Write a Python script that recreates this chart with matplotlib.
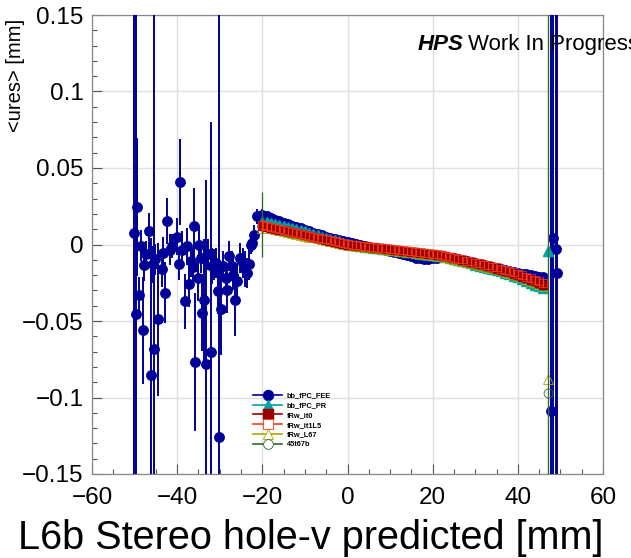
import numpy as np
import matplotlib
matplotlib.use('Agg')
import matplotlib.pyplot as plt
from matplotlib.lines import Line2D
from matplotlib.ticker import MultipleLocator, FuncFormatter

plt.rcParams['font.family'] = ['Liberation Sans', 'DejaVu Sans']
plt.rcParams['axes.unicode_minus'] = True

# ---------------- data ----------------
# bb_fPC_FEE : scattered region (left)
fee_left_x = [-50.1, -49.7, -49.4, -49.0, -48.5, -48.1, -47.7, -47.3, -46.5, -46.1,
              -45.6, -45.4, -45.2, -44.6, -43.6, -43.3, -42.9, -42.5, -41.7, -41.3,
              -40.1, -39.5, -39.3, -38.8, -38.2, -37.8, -37.2, -36.8, -36.2, -36.1,
              -35.7, -35.2, -34.9, -34.5, -34.1, -33.7, -33.2, -32.7, -32.1, -31.8,
              -31.4, -30.9, -30.5, -30.1, -29.7, -29.3, -28.5, -28.4, -27.8, -27.2,
              -26.8, -26.4, -25.9, -25.2, -24.6, -24.1, -23.7, -23.1, -22.7, -22.4,
              -22.0, -21.3]
fee_left_y = [0.0076, -0.0452, 0.0243, -0.0330, -0.0007, -0.0560, -0.0137, -0.0059, 0.0087, -0.0855,
              -0.0130, -0.0680, -0.0098, -0.0490, -0.0160, -0.0054, -0.0315, 0.0152, -0.0033, -0.0010,
              0.0050, -0.0130, 0.0407, -0.0033, -0.0370, -0.0011, -0.0260, -0.0110, -0.0145, 0.0120,
              -0.0770, -0.0217, 0.0000, -0.0087, -0.0446, -0.0365, -0.0778, -0.0065, -0.0700, -0.0141,
              -0.0130, -0.0120, -0.0304, -0.1255, -0.0420, -0.0140, -0.0220, -0.0300, -0.0076, -0.0140,
              -0.0200, -0.0360, -0.0240, -0.0087, -0.0120, -0.0160, -0.0185, -0.0130, 0.0000, 0.0011,
              0.0065, 0.0185]
fee_left_err = [0.30, 0.30, 0.045, 0.012, 0.010, 0.035, 0.010, 0.008, 0.012, 0.090,
                0.012, 0.250, 0.010, 0.050, 0.012, 0.010, 0.020, 0.015, 0.010, 0.008,
                0.012, 0.010, 0.028, 0.012, 0.018, 0.012, 0.015, 0.010, 0.012, 0.025,
                0.045, 0.015, 0.012, 0.010, 0.025, 0.040, 0.120, 0.010, 0.150, 0.012,
                0.010, 0.010, 0.015, 0.300, 0.030, 0.010, 0.010, 0.015, 0.010, 0.010,
                0.010, 0.024, 0.012, 0.010, 0.010, 0.012, 0.010, 0.010, 0.006, 0.006,
                0.006, 0.005]

# common x positions of the dense band (-20 ... 46)
band_x = [-20, -19, -18, -17, -16, -15, -14, -13, -12, -11, -10, -9, -8, -7, -6, -5, -4,
          -3, -2, -1, 0, 1, 2, 3, 4, 5, 6, 7, 8, 9, 10, 11, 12, 13, 14, 15, 16, 17,
          18, 19, 20, 21, 22, 23, 24, 25, 26, 27, 28, 29, 30, 31, 32, 33, 34, 35, 36,
          37, 38, 39, 40, 41, 42, 43, 44, 45, 46]
band_err = [0.0040, 0.0030, 0.0025, 0.0020, 0.0018, 0.0016, 0.0015, 0.0014, 0.0013, 0.0013,
            0.0012, 0.0012, 0.0012, 0.0012, 0.0012, 0.0012, 0.0012, 0.0012, 0.0012, 0.0012,
            0.0012, 0.0012, 0.0012, 0.0012, 0.0012, 0.0012, 0.0012, 0.0012, 0.0012, 0.0012,
            0.0012, 0.0012, 0.0012, 0.0012, 0.0012, 0.0012, 0.0012, 0.0012, 0.0012, 0.0012,
            0.0012, 0.0012, 0.0012, 0.0012, 0.0012, 0.0012, 0.0012, 0.0012, 0.0013, 0.0013,
            0.0013, 0.0013, 0.0013, 0.0014, 0.0014, 0.0015, 0.0015, 0.0016, 0.0016, 0.0017,
            0.0018, 0.0019, 0.0020, 0.0022, 0.0025, 0.0028, 0.0030]

fee_band_y = [0.0195, 0.0185, 0.0172, 0.0162, 0.0152, 0.0143, 0.0133, 0.0124, 0.0115, 0.0106,
              0.0098, 0.0088, 0.0078, 0.0070, 0.0062, 0.0052, 0.0043, 0.0036, 0.0030, 0.0024,
              0.0018, 0.0011, 0.0005, -0.0002, -0.0008, -0.0014, -0.0020, -0.0026, -0.0032, -0.0037,
              -0.0042, -0.0048, -0.0055, -0.0062, -0.0070, -0.0078, -0.0085, -0.0090, -0.0093, -0.0092,
              -0.0090, -0.0085, -0.0080, -0.0082, -0.0085, -0.0091, -0.0098, -0.0104, -0.0110, -0.0116,
              -0.0122, -0.0128, -0.0135, -0.0141, -0.0148, -0.0154, -0.0160, -0.0166, -0.0172, -0.0178,
              -0.0184, -0.0190, -0.0196, -0.0200, -0.0205, -0.0210, -0.0215]
pr_band_y = [0.0150, 0.0145, 0.0140, 0.0134, 0.0128, 0.0122, 0.0115, 0.0108, 0.0100, 0.0093,
             0.0085, 0.0076, 0.0068, 0.0060, 0.0052, 0.0044, 0.0036, 0.0028, 0.0020, 0.0012,
             0.0004, -0.0001, -0.0006, -0.0010, -0.0014, -0.0018, -0.0021, -0.0025, -0.0028, -0.0031,
             -0.0034, -0.0038, -0.0041, -0.0045, -0.0048, -0.0052, -0.0055, -0.0059, -0.0062, -0.0066,
             -0.0069, -0.0073, -0.0078, -0.0084, -0.0090, -0.0096, -0.0103, -0.0110, -0.0117, -0.0124,
             -0.0131, -0.0138, -0.0146, -0.0153, -0.0160, -0.0168, -0.0176, -0.0185, -0.0195, -0.0205,
             -0.0215, -0.0226, -0.0238, -0.0250, -0.0262, -0.0274, -0.0285]
it0_band_y = [0.0120, 0.0115, 0.0110, 0.0104, 0.0098, 0.0092, 0.0086, 0.0080, 0.0074, 0.0068,
              0.0062, 0.0056, 0.0050, 0.0043, 0.0037, 0.0031, 0.0025, 0.0018, 0.0012, 0.0006,
              0.0000, -0.0003, -0.0006, -0.0009, -0.0012, -0.0016, -0.0019, -0.0022, -0.0025, -0.0028,
              -0.0031, -0.0034, -0.0037, -0.0040, -0.0043, -0.0047, -0.0050, -0.0053, -0.0056, -0.0059,
              -0.0062, -0.0066, -0.0070, -0.0076, -0.0083, -0.0089, -0.0096, -0.0103, -0.0110, -0.0116,
              -0.0123, -0.0130, -0.0137, -0.0143, -0.0150, -0.0157, -0.0164, -0.0172, -0.0180, -0.0190,
              -0.0200, -0.0210, -0.0220, -0.0230, -0.0240, -0.0251, -0.0262]
it1_band_y = [0.0125, 0.0118, 0.0112, 0.0106, 0.0100, 0.0094, 0.0088, 0.0082, 0.0076, 0.0070,
              0.0064, 0.0058, 0.0052, 0.0045, 0.0039, 0.0033, 0.0027, 0.0020, 0.0014, 0.0008,
              0.0002, -0.0001, -0.0004, -0.0007, -0.0010, -0.0014, -0.0017, -0.0020, -0.0023, -0.0026,
              -0.0029, -0.0032, -0.0035, -0.0038, -0.0041, -0.0045, -0.0048, -0.0051, -0.0054, -0.0057,
              -0.0060, -0.0063, -0.0067, -0.0073, -0.0079, -0.0085, -0.0092, -0.0098, -0.0105, -0.0111,
              -0.0118, -0.0124, -0.0131, -0.0137, -0.0144, -0.0150, -0.0157, -0.0164, -0.0172, -0.0181,
              -0.0191, -0.0200, -0.0210, -0.0219, -0.0229, -0.0239, -0.0250]
l67_band_y = [0.0108, 0.0107, 0.0105, 0.0100, 0.0094, 0.0088, 0.0082, 0.0076, 0.0070, 0.0064,
              0.0058, 0.0052, 0.0046, 0.0040, 0.0034, 0.0027, 0.0021, 0.0015, 0.0009, 0.0003,
              -0.0003, -0.0006, -0.0009, -0.0012, -0.0015, -0.0019, -0.0022, -0.0025, -0.0028, -0.0031,
              -0.0034, -0.0037, -0.0040, -0.0044, -0.0047, -0.0050, -0.0053, -0.0056, -0.0060, -0.0063,
              -0.0066, -0.0070, -0.0074, -0.0080, -0.0087, -0.0093, -0.0100, -0.0107, -0.0114, -0.0120,
              -0.0127, -0.0134, -0.0141, -0.0148, -0.0155, -0.0162, -0.0169, -0.0177, -0.0185, -0.0195,
              -0.0205, -0.0215, -0.0226, -0.0236, -0.0247, -0.0257, -0.0268]
g45_band_y = [0.0130, 0.0115, 0.0108, 0.0102, 0.0096, 0.0090, 0.0084, 0.0078, 0.0072, 0.0066,
              0.0060, 0.0054, 0.0048, 0.0041, 0.0035, 0.0029, 0.0023, 0.0016, 0.0010, 0.0004,
              -0.0001, -0.0004, -0.0007, -0.0010, -0.0013, -0.0017, -0.0020, -0.0023, -0.0026, -0.0029,
              -0.0032, -0.0035, -0.0038, -0.0042, -0.0045, -0.0048, -0.0051, -0.0054, -0.0058, -0.0061,
              -0.0064, -0.0068, -0.0072, -0.0078, -0.0085, -0.0091, -0.0098, -0.0105, -0.0112, -0.0118,
              -0.0125, -0.0132, -0.0139, -0.0145, -0.0152, -0.0159, -0.0166, -0.0174, -0.0182, -0.0192,
              -0.0202, -0.0212, -0.0222, -0.0233, -0.0243, -0.0254, -0.0265]
g45_first_err = 0.021

# isolated points near the right edge
fee_edge_x = [47.7, 48.3, 48.9, 49.1]
fee_edge_y = [-0.109, 0.0044, -0.0028, -0.0185]
fee_edge_err = [0.30, 0.30, 0.30, 0.30]
pr_edge = (47.0, -0.0044, 0.002)
l67_edge = (47.0, -0.088, 0.30)
g45_edge = (47.1, -0.097, 0.30)

labels = ['bb_fPC_FEE', 'bb_fPC_PR', 'fRw_it0', 'fRw_it1L5', 'fRw_L67', '45t67b']
colors = ['#000099', '#00a3a3', '#990000', '#ff3a1a', '#a8a800', '#2e6b2e']

x_ticks_major, x_ticks_minor = 20, 5
y_ticks_major, y_ticks_minor = 0.05, 0.01

# ---------------- figure ----------------
fig = plt.figure(figsize=(6.31, 5.58), dpi=100)
ax = fig.add_axes([92 / 631, 84 / 558, 511 / 631, 459 / 558])

# bb_fPC_FEE
fx = fee_left_x + band_x + fee_edge_x
fy = fee_left_y + fee_band_y + fee_edge_y
fe = fee_left_err + band_err + fee_edge_err
ax.errorbar(fx, fy, yerr=fe, fmt='o', color=colors[0], ms=6.8, elinewidth=1.4,
            capsize=0, zorder=3)

# bb_fPC_PR
ax.errorbar(band_x + [pr_edge[0]], pr_band_y + [pr_edge[1]], yerr=band_err + [pr_edge[2]],
            fmt='^', color=colors[1], ms=7.0, elinewidth=1.0, capsize=0, zorder=4)

# fRw_L67
ax.errorbar(band_x + [l67_edge[0]], l67_band_y + [l67_edge[1]], yerr=band_err + [l67_edge[2]],
            fmt='^', color=colors[4], ms=6.6, mfc='none', mew=0.6, elinewidth=0.9,
            capsize=0, zorder=5)

# 45t67b
g_err = [g45_first_err] + band_err[1:] + [g45_edge[2]]
ax.errorbar(band_x + [g45_edge[0]], g45_band_y + [g45_edge[1]], yerr=g_err,
            fmt='o', color=colors[5], ms=6.4, mfc='none', mew=0.6, elinewidth=0.9,
            capsize=0, zorder=6)

# fRw_it0
ax.errorbar(band_x, it0_band_y, yerr=band_err, fmt='s', color=colors[2], ms=6.2,
            elinewidth=1.0, capsize=0, zorder=7)

# fRw_it1L5
ax.errorbar(band_x, it1_band_y, yerr=band_err, fmt='s', color=colors[3], ms=6.4,
            mfc='none', mew=0.5, elinewidth=0.9, capsize=0, zorder=8)

ax.set_xlim(-60, 60)
ax.set_ylim(-0.15, 0.15)
ax.xaxis.set_major_locator(MultipleLocator(x_ticks_major))
ax.xaxis.set_minor_locator(MultipleLocator(x_ticks_minor))
ax.yaxis.set_major_locator(MultipleLocator(y_ticks_major))
ax.yaxis.set_minor_locator(MultipleLocator(y_ticks_minor))


def fmt(v, p):
    v = round(v, 6)
    if abs(v) < 1e-9:
        return '0'
    return ('%g' % v).replace('-', '\u2212')


ax.xaxis.set_major_formatter(FuncFormatter(fmt))
ax.yaxis.set_major_formatter(FuncFormatter(fmt))
ax.tick_params(which='both', direction='in', colors='#555555', labelcolor='black',
               labelsize=17.5, top=False, right=False)
ax.tick_params(which='major', length=7, width=0.8)
ax.tick_params(which='minor', length=3.6, width=0.8)
ax.tick_params(axis='x', pad=9)
ax.tick_params(axis='y', pad=6)
for s in ax.spines.values():
    s.set_color('#888888')
    s.set_linewidth(0.9)
ax.grid(True, which='major', color='#e0e0e0', linewidth=1.0, zorder=0)
ax.set_axisbelow(True)

ax.set_xlabel('L6b Stereo hole-v predicted [mm]', fontsize=28.5, loc='right')
ax.xaxis.set_label_coords(1.0, -0.099)
fig.text(16 / 631, 1 - 19 / 558, '<ures> [mm]', fontsize=14.5, rotation=90,
         ha='center', va='top')

fig.text(418 / 631, 1 - 50 / 558, 'HPS', fontsize=16, fontweight='bold',
         style='italic', va='baseline')
fig.text(468 / 631, 1 - 50 / 558, 'Work In Progress', fontsize=16, va='baseline')

# legend
handles = [
    Line2D([], [], color=colors[0], marker='o', ms=7.2, lw=1.2),
    Line2D([], [], color=colors[1], marker='^', ms=7.0, lw=1.2),
    Line2D([], [], color=colors[2], marker='s', ms=6.6, lw=1.2),
    Line2D([], [], color=colors[3], marker='s', ms=6.6, lw=1.2, mfc='white', mew=0.6),
    Line2D([], [], color=colors[4], marker='^', ms=7.0, lw=1.2, mfc='white', mew=0.6),
    Line2D([], [], color=colors[5], marker='o', ms=7.0, lw=1.2, mfc='white', mew=0.6),
]
leg = ax.legend(handles, labels, loc='upper left', bbox_to_anchor=(0.315, 0.178),
                frameon=False, prop={'size': 5.3, 'weight': 'bold'}, handlelength=4.0,
                handletextpad=0.6, labelspacing=0.35, borderpad=0, borderaxespad=0)

fig.savefig('out.png', dpi=100)
